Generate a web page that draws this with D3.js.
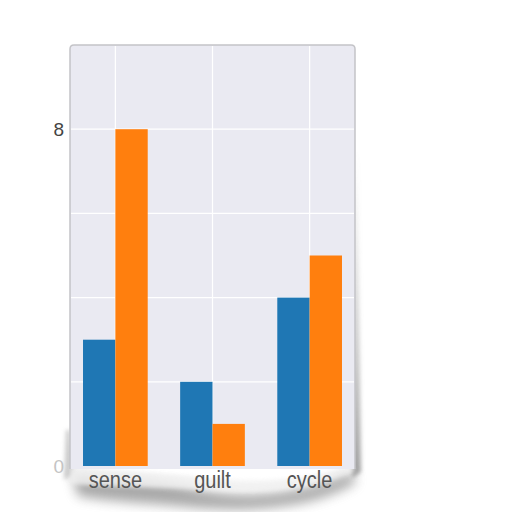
<!DOCTYPE html>
<html><head><meta charset="utf-8">
<script src="https://cdn.jsdelivr.net/npm/d3@7"></script>
<style>html,body{margin:0;padding:0;background:#fff;}svg{display:block;}</style>
</head><body>
<svg id="c" width="512" height="512"></svg>
<script>
const categories = ["sense", "guilt", "cycle"];
const seriesA = [3, 2, 4];
const seriesB = [8, 1, 5];
const gridValues = [0, 2, 4, 6, 8];
const tickLabels = [0, 8];

const svg = d3.select("#c");
const L = 70, R = 355, T = 45, B = 466;
const x = d3.scaleLinear().domain([-0.467, 2.467]).range([L, R]);
const y = d3.scaleLinear().domain([0, 10]).range([B, T]);
const bw = 0.333;

const defs = svg.append("defs");
const f = defs.append("filter").attr("id", "blur").attr("x", "-20%").attr("y", "-50%").attr("width", "140%").attr("height", "200%");
f.append("feGaussianBlur").attr("stdDeviation", 6);
const f2 = defs.append("filter").attr("id", "blur2").attr("x", "-50%").attr("y", "-10%").attr("width", "200%").attr("height", "120%");
f2.append("feGaussianBlur").attr("stdDeviation", 2);
const g1 = defs.append("linearGradient").attr("id", "rg").attr("x1", 0).attr("y1", 0).attr("x2", 0).attr("y2", 1);
g1.append("stop").attr("offset", "0%").attr("stop-color", "#999").attr("stop-opacity", 0);
g1.append("stop").attr("offset", "60%").attr("stop-color", "#999").attr("stop-opacity", 0.5);
g1.append("stop").attr("offset", "100%").attr("stop-color", "#888").attr("stop-opacity", 0.8);

// curled-paper shadow beneath the chart
svg.append("path")
  .attr("d", "M72,474 C110,480 150,478 200,490 C250,500 300,494 352,472 L356,482 C320,506 260,512 200,508 C150,503 110,502 78,496 Z")
  .attr("fill", "#7a7a7a").attr("opacity", 0.65).attr("filter", "url(#blur)");
svg.append("path")
  .attr("d", "M66,430 L70,430 L74,474 L64,480 Z")
  .attr("fill", "#999").attr("opacity", 0.5).attr("filter", "url(#blur2)");
svg.append("path")
  .attr("d", "M354,150 L357,150 L361,472 L352,478 Z")
  .attr("fill", "url(#rg)").attr("filter", "url(#blur2)");

// paper strip behind labels
svg.append("path")
  .attr("d", "M70,468 C120,474 160,472 210,478 C260,484 310,478 355,468 L355,470 C310,490 260,494 210,490 C160,486 120,488 70,484 Z")
  .attr("fill", "#f0f0f0").attr("opacity", 0.8).attr("filter", "url(#blur2)");

// plot background
svg.append("path")
  .attr("d", `M${L},${B+3} L${L},${T+4} Q${L},${T} ${L+4},${T} L${R-4},${T} Q${R},${T} ${R},${T+4} L${R},${B+3}`)
  .attr("fill", "#eaeaf2").attr("stroke", "#c4c4c8").attr("stroke-width", 1.5);

// gridlines
svg.append("g").selectAll("line.h").data(gridValues.slice(1)).join("line")
  .attr("x1", L + 1).attr("x2", R - 1)
  .attr("y1", d => y(d)).attr("y2", d => y(d))
  .attr("stroke", "#fff").attr("stroke-width", 1.2);
svg.append("g").selectAll("line.v").data(categories).join("line")
  .attr("x1", (d, i) => x(i)).attr("x2", (d, i) => x(i))
  .attr("y1", T + 1).attr("y2", B)
  .attr("stroke", "#fff").attr("stroke-width", 1.2);

// bars
svg.append("g").selectAll("rect").data(seriesA).join("rect")
  .attr("x", (d, i) => x(i - bw)).attr("width", x(bw) - x(0))
  .attr("y", d => y(d)).attr("height", d => y(0) - y(d))
  .attr("fill", "#1f77b4");
svg.append("g").selectAll("rect").data(seriesB).join("rect")
  .attr("x", (d, i) => x(i)).attr("width", x(bw) - x(0))
  .attr("y", d => y(d)).attr("height", d => y(0) - y(d))
  .attr("fill", "#ff7f0e");

// y tick labels
svg.append("g").selectAll("text").data(tickLabels).join("text")
  .attr("x", 64).attr("y", d => y(d)).attr("dy", "0.36em")
  .attr("text-anchor", "end")
  .attr("font-family", "Liberation Sans, Arial, sans-serif").attr("font-size", 19)
  .attr("fill", d => d === 0 ? "#c4c4c4" : "#444")
  .text(d => d);

// x labels
svg.append("g").selectAll("text").data(categories).join("text")
  .attr("transform", (d, i) => `translate(${x(i)},488) scale(1,1.15)`)
  .attr("text-anchor", "middle")
  .attr("font-family", "Liberation Sans, Arial, sans-serif").attr("font-size", 20)
  .attr("fill", "#555")
  .text(d => d);
</script>
</body></html>
